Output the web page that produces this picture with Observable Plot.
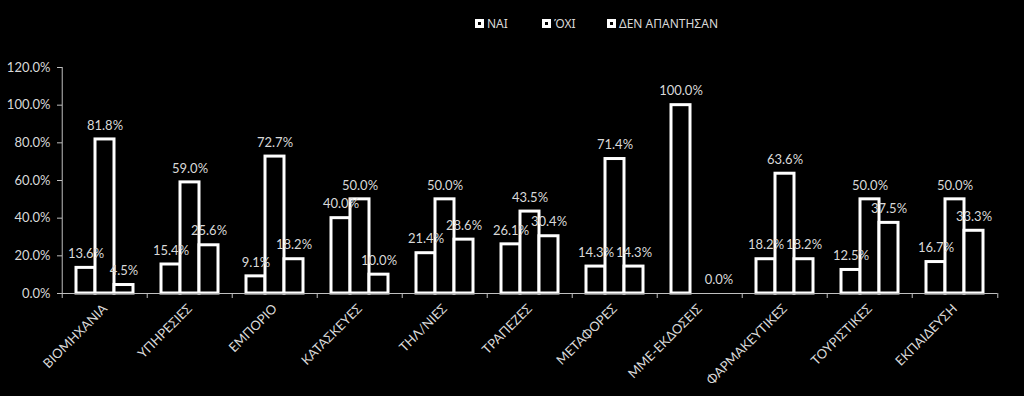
<!DOCTYPE html>
<html><head><meta charset="utf-8">
<script src="https://cdn.jsdelivr.net/npm/d3@7"></script>
<script src="https://cdn.jsdelivr.net/npm/@observablehq/plot@0.6"></script>
<style>
html,body{margin:0;padding:0;background:#000;}
body{width:1024px;height:396px;overflow:hidden;font-family:Lato,"Open Sans",sans-serif;}
#legend{height:45px;position:relative;color:#d9d9d9;font-size:12px;font-family:"Noto Sans",Lato,sans-serif;}
.item{position:absolute;top:16px;display:flex;align-items:center;line-height:15px;}
.sw{width:3px;height:3px;border:3px solid #fff;background:#000;margin-right:3px;}
svg{display:block;}
</style></head>
<body>
<div id="legend"></div>
<div id="chart"></div>
<script>
const categories = ["ΒΙΟΜΗΧΑΝΙΑ","ΥΠΗΡΕΣΙΕΣ","ΕΜΠΟΡΙΟ","ΚΑΤΑΣΚΕΥΕΣ","ΤΗΛ/ΝΙΕΣ","ΤΡΑΠΕΖΕΣ","ΜΕΤΑΦΟΡΕΣ","ΜΜΕ-ΕΚΔΟΣΕΙΣ","ΦΑΡΜΑΚΕΥΤΙΚΕΣ","ΤΟΥΡΙΣΤΙΚΕΣ","ΕΚΠΑΙΔΕΥΣΗ"];
const seriesNames = ["ΝΑΙ","ΌΧΙ","ΔΕΝ ΑΠΑΝΤΗΣΑΝ"];
const nai   = [13.6, 15.4, 9.1, 40.0, 21.4, 26.1, 14.3, 100.0, 18.2, 12.5, 16.7];
const oxi   = [81.8, 59.0, 72.7, 50.0, 50.0, 43.5, 71.4, null, 63.6, 50.0, 50.0];
const den   = [4.5, 25.6, 18.2, 10.0, 28.6, 30.4, 14.3, 0.0, 18.2, 37.5, 33.3];
const yTicks = [0, 20, 40, 60, 80, 100, 120];

const seriesValues = [nai, oxi, den];
const data = [];
categories.forEach((c, i) => seriesValues.forEach((vals, s) => {
  if (vals[i] != null) data.push({cat: c, series: seriesNames[s], value: vals[i]});
}));

// legend
const legend = document.getElementById("legend");
const legendLeft = [475, 542, 607];
seriesNames.forEach((n, i) => {
  const it = document.createElement("div");
  it.className = "item";
  it.style.left = legendLeft[i] + "px";
  it.innerHTML = '<span class="sw"></span><span>' + n + '</span>';
  legend.appendChild(it);
});

const W = 1024, H = 351, ml = 59, mr = 24, mt = 22, mb = 103;
const step = (W - ml - mr) / categories.length;
const innerH = H - mt - mb;
const grey = "#d9d9d9";
const lineGrey = "#bfbfbf";
const chart = Plot.plot({
  width: W, height: H,
  marginLeft: ml, marginRight: mr, marginTop: mt, marginBottom: mb,
  style: {background: "#000", color: grey, fontFamily: "Lato, 'Open Sans', sans-serif", fontSize: "13px"},
  fx: {domain: categories, padding: 0, label: null},
  x: {domain: seriesNames, paddingInner: 0, paddingOuter: 0.64, axis: null},
  y: {domain: [0, 120], axis: null},
  marks: [
    Plot.axisY({ticks: yTicks, tickSize: 5, tickPadding: 7, tickFormat: d => d.toFixed(1) + "%", stroke: lineGrey, fill: grey, fontSize: 13, label: null}),
    // y axis line (left edge of first facet)
    Plot.axisFx({anchor: "bottom", ticks: [categories[0]], tickSize: -innerH, tickFormat: () => "", dx: -step / 2, stroke: lineGrey, label: null}),
    Plot.barY(data.filter(d => d.value > 0), {fx: "cat", x: "series", y: "value", fill: "#000", stroke: "#fff", strokeWidth: 3}),
    Plot.ruleY([0], {stroke: lineGrey}),
    Plot.axisFx({anchor: "bottom", tickSize: 5, tickFormat: () => "", dx: -step / 2, stroke: lineGrey, label: null}),
    Plot.axisFx({anchor: "bottom", ticks: [categories[categories.length - 1]], tickSize: 5, tickFormat: () => "", dx: step / 2, stroke: lineGrey, label: null}),
    Plot.axisFx({anchor: "bottom", tickSize: 0, tickPadding: 13, tickRotate: -45, fill: grey, fontSize: 13, label: null}),
    Plot.text(data, {fx: "cat", x: "series", y: "value", text: d => d.value.toFixed(1) + "%", dy: -14, fill: grey, fontSize: 13})
  ]
});
document.getElementById("chart").appendChild(chart);
</script>
</body></html>
